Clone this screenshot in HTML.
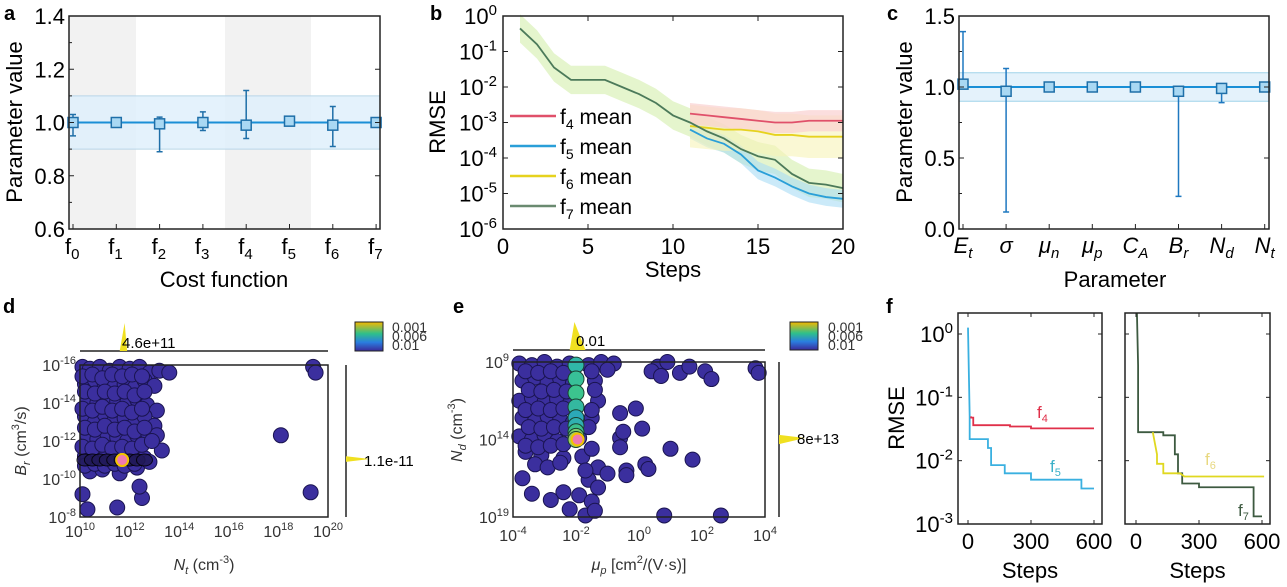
<!DOCTYPE html>
<html><head><meta charset="utf-8"><style>
body{margin:0;background:#fff;}
svg{display:block;font-family:"Liberation Sans",sans-serif;}
</style></head><body>
<svg id="fig" width="1287" height="587" viewBox="0 0 1287 587">
<defs>
<linearGradient id="cb" x1="0" y1="0" x2="0" y2="1"><stop offset="0" stop-color="#f5b800"/><stop offset="0.4" stop-color="#2fc08a"/><stop offset="0.7" stop-color="#2a7ee0"/><stop offset="1" stop-color="#3a2a9a"/></linearGradient>
</defs>
<g id="pa"></g>
<g id="pb"></g>
<g id="pc"></g>
<g id="pd"></g>
<g id="pe"></g>
<g id="pf"></g>
</svg>
<script>
// Panel a data
const aCats=["0","1","2","3","4","5","6","7"];
const aMean=[1.0,1.0,0.995,1.0,0.99,1.005,0.99,1.0];
const aLo=[0.95,0.995,0.89,0.97,0.94,0.995,0.91,0.995];
const aHi=[1.03,1.005,1.02,1.04,1.12,1.01,1.06,1.005];
// Panel b data
const bSteps=[1,2,3,4,5,6,7,8,9,10,11,12,13,14,15,16,17,18,19,20];
const bF7=[-0.35,-0.8,-1.45,-1.8,-1.8,-1.8,-2.0,-2.2,-2.45,-2.8,-3.0,-3.25,-3.45,-3.75,-3.95,-4.05,-4.45,-4.7,-4.75,-4.85];
const bF5=[null,null,null,null,null,null,null,null,null,null,-3.2,-3.45,-3.6,-3.9,-4.35,-4.55,-4.8,-5.0,-5.1,-5.15];
const bF6=[null,null,null,null,null,null,null,null,null,null,-3.1,-3.15,-3.2,-3.2,-3.25,-3.35,-3.35,-3.4,-3.4,-3.4];
const bF4=[null,null,null,null,null,null,null,null,null,null,-2.75,-2.8,-2.85,-2.9,-2.95,-3.0,-3.0,-2.95,-2.95,-2.95];
// Panel c data
const cCats=["E","σ","μ","μ","C","B","N","N"];
const cSub=["t","","n","p","A","r","d","t"];
const cMean=[1.02,0.97,1.0,1.0,1.0,0.97,0.99,1.0];
const cLo=[1.0,0.12,0.99,0.99,0.99,0.23,0.89,0.99];
const cHi=[1.39,1.13,1.01,1.01,1.01,1.0,1.02,1.01];
// Panel d data: log10 Nt, log10 Br
const dX=[10.1,10.4,10.8,11.2,11.6,12.0,12.4,12.8,13.2,13.6,10.2,10.6,11.0,11.4,11.8,12.2,12.6,13.0,10.3,10.7,11.1,11.5,11.9,12.3,12.7,13.1,10.2,10.6,11.0,11.4,11.8,12.2,12.6,10.3,10.7,11.1,11.5,11.9,12.3,12.7,13.0,10.2,10.6,11.0,11.4,11.8,12.2,12.6,10.4,10.9,11.6,12.3,12.8,10.1,10.3,11.5,12.5,12.4,18.1,19.3,19.4,19.5,13.3,13.1,
10.1,10.5,10.9,11.3,11.7,12.1,12.5,10.2,10.6,11.0,11.4,11.8,12.2,12.6,10.1,10.5,10.9,11.3,11.7,12.1,12.5,10.2,10.6,11.0,11.4,11.8,12.2,12.6,10.1,10.5,10.9,11.3,11.7,12.1,12.5,12.9,10.2,10.6,11.0,11.4,11.8,12.2];
const dY=[-15.9,-15.8,-15.9,-15.7,-15.9,-15.8,-15.9,-15.6,-15.7,-15.6,-15.0,-15.2,-14.9,-15.1,-15.0,-14.8,-15.2,-14.9,-14.2,-14.0,-14.3,-14.1,-14.0,-14.2,-13.9,-13.6,-13.3,-13.0,-13.4,-13.1,-13.2,-12.9,-13.3,-12.3,-12.1,-12.4,-12.2,-12.0,-12.3,-12.5,-12.8,-11.2,-11.0,-11.1,-11.0,-11.2,-10.9,-11.1,-10.4,-10.5,-10.3,-10.6,-10.9,-9.2,-8.4,-8.5,-9.0,-9.6,-12.3,-9.3,-15.9,-15.6,-11.5,-12.3,
-15.4,-15.5,-15.3,-15.5,-15.4,-15.5,-15.4,-14.6,-14.5,-14.6,-14.5,-14.6,-14.4,-14.6,-13.7,-13.6,-13.8,-13.6,-13.7,-13.5,-13.7,-12.7,-12.6,-12.8,-12.6,-12.7,-12.5,-12.7,-11.7,-11.6,-11.8,-11.6,-11.7,-11.6,-11.8,-12.0,-10.7,-10.8,-10.7,-10.8,-10.7,-10.8];
// Panel e data: log10 mu_p, log10 Nd
const eX=[-3.8,-3.4,-3.0,-2.6,-2.2,-1.6,-1.2,-3.7,-3.3,-2.9,-2.5,-2.1,-1.4,-3.8,-3.4,-3.0,-2.6,-2.2,-1.3,-3.7,-3.3,-2.9,-2.5,-2.1,-1.5,-3.8,-3.4,-3.0,-2.6,-1.9,-3.6,-3.1,-2.4,-1.8,-3.7,-1.6,-3.4,-2.4,-1.9,-1.7,-0.8,-1.0,-0.6,-0.1,-0.6,-0.5,0.1,-0.6,0.2,0.3,0.6,0.9,1.3,1.6,2.1,2.3,3.7,3.8,1.0,1.7,-1.3,-1.0,-0.4,-0.4,0.4,0.7,0.8,2.6,
-3.6,-3.2,-2.8,-2.4,-1.5,-3.5,-3.1,-2.7,-2.3,-1.4,-3.6,-3.2,-2.8,-2.4,-1.5,-3.5,-3.1,-2.7,-2.3,-1.6,-3.6,-3.2,-2.8,-2.4,-1.5,-3.3,-2.9,-2.5,-1.7,-1.3,-2.8,-2.2,-1.5,-1.4];
const eY=[9.1,9.2,9.0,9.3,9.1,9.2,9.0,10.2,10.0,10.3,10.1,10.4,10.2,11.5,11.3,11.6,11.4,11.7,11.5,12.6,12.8,12.5,12.7,12.9,12.6,13.8,14.0,13.7,14.1,13.9,14.8,15.0,15.2,15.1,16.5,16.6,17.5,17.4,17.6,18.9,9.1,9.5,12.3,12.0,13.9,13.5,13.3,14.5,15.6,15.9,9.3,9.0,9.7,9.3,9.6,10.1,9.4,9.7,14.6,15.3,15.8,16.2,16.0,16.3,9.6,9.9,18.9,18.9,
9.6,9.7,9.6,9.7,9.6,10.8,10.9,10.8,10.9,10.8,12.1,12.0,12.1,12.0,12.1,13.2,13.3,13.2,13.3,13.2,14.4,14.5,14.4,14.3,14.6,15.6,15.8,15.5,16.0,17.1,17.9,18.5,18.0,18.6];
const eGood=[-2.0,-2.0,-2.0,-2.0,-2.0,-2.0,-2.0,-2.0,-2.0];
const eGoodY=[9.2,10.1,11.0,11.9,12.6,13.1,13.5,13.8,14.0];
// Panel f data
const fStepsL4=[15,15,25,25,200,200,300,300,600];
const fL4=[-1.3,-1.32,-1.32,-1.44,-1.44,-1.46,-1.46,-1.49,-1.49];
const fStepsL5=[0,8,8,95,95,110,110,175,175,300,300,540,540,600];
const fL5=[0.1,-1.3,-1.66,-1.66,-1.8,-1.8,-2.07,-2.07,-2.2,-2.2,-2.3,-2.3,-2.44,-2.44];
const fStepsR7=[0,10,10,130,130,185,185,200,200,220,220,300,300,560,560,600];
const fR7=[1.0,-0.5,-1.55,-1.55,-1.6,-1.6,-1.9,-1.9,-2.2,-2.2,-2.36,-2.36,-2.42,-2.42,-2.88,-2.88];
const fStepsR6=[80,100,100,130,130,210,210,230,230,610];
const fR6=[-1.55,-1.9,-2.05,-2.05,-2.2,-2.2,-2.2,-2.25,-2.25,-2.25];

const NS="http://www.w3.org/2000/svg";
function E(p,t,a,txt){const e=document.createElementNS(NS,t);for(const k in a)e.setAttribute(k,a[k]);if(txt!==undefined)e.textContent=txt;p.appendChild(e);return e;}
function lin(d0,d1,r0,r1){return v=>r0+(v-d0)/(d1-d0)*(r1-r0);}
function box(g,x0,y0,x1,y1){const r=E(g,'rect',{x:x0,y:y0,width:x1-x0,height:y1-y0,fill:'none',stroke:'#222','stroke-width':1.5});}
function lbl(g,x,y,s){const t=E(g,'text',{x:x,y:y,'font-size':20,'font-weight':'bold'},s);}

// ---------- Panel a ----------
(function(){const g=document.getElementById('pa');
const X0=69,X1=380,Y0=16,Y1=229;const y=lin(0.6,1.4,Y1,Y0);const x=i=>73+i*43.3;
E(g,'rect',{x:X0,y:Y0,width:67,height:Y1-Y0,fill:'#f2f2f2'});
E(g,'rect',{x:225,y:Y0,width:86,height:Y1-Y0,fill:'#f2f2f2'});
E(g,'rect',{x:X0,y:y(1.1),width:X1-X0,height:y(0.9)-y(1.1),fill:'#dff0fb',opacity:0.85});
E(g,'line',{x1:X0,x2:X1,y1:y(1.1),y2:y(1.1),stroke:'#b9d6e8'});E(g,'line',{x1:X0,x2:X1,y1:y(0.9),y2:y(0.9),stroke:'#b9d6e8'});
const pl=E(g,'polyline',{points:aMean.map((m,i)=>x(i)+','+y(1.0)).join(' '),fill:'none',stroke:'#1a8fd6','stroke-width':2});
aMean.forEach((m,i)=>{const xx=x(i);
const eb=E(g,'path',{d:`M${xx},${y(aLo[i])}V${y(aHi[i])}M${xx-3},${y(aLo[i])}h6M${xx-3},${y(aHi[i])}h6`,stroke:'#1f6fa8','stroke-width':1.5,fill:'none'});
const r=E(g,'rect',{x:xx-5,y:y(m)-5,width:10,height:10,fill:'#a9d8f3',stroke:'#1f6fa8','stroke-width':1.5});});
box(g,X0,Y0,X1,Y1);
[0.6,0.8,1.0,1.2,1.4].forEach(v=>{E(g,'line',{x1:X0,x2:X0+5,y1:y(v),y2:y(v),stroke:'#222'});E(g,'line',{x1:X1,x2:X1-5,y1:y(v),y2:y(v),stroke:'#222'});
const t=E(g,'text',{x:X0-4,y:y(v)+8,'font-size':22,'text-anchor':'end'},v.toFixed(1));});
[0.7,0.9,1.1,1.3].forEach(v=>{E(g,'line',{x1:X0,x2:X0+3,y1:y(v),y2:y(v),stroke:'#222'});});
aCats.forEach((c,i)=>{E(g,'line',{x1:x(i),x2:x(i),y1:Y1,y2:Y1-5,stroke:'#222'});
const t=E(g,'text',{x:x(i)-8,y:254,'font-size':22});
t.innerHTML='f<tspan font-size="15" dy="5">'+c+'</tspan>';});
const xt=E(g,'text',{x:224,y:287,'font-size':22,'text-anchor':'middle'},'Cost function');
const yt=E(g,'text',{x:0,y:0,'font-size':22,'text-anchor':'middle',transform:'translate(22,122) rotate(-90)'},'Parameter value');
lbl(g,4,20,'a');})();

// ---------- Panel b ----------
(function(){const g=document.getElementById('pb');
const X0=503,X1=843,Y0=16,Y1=229;const x=lin(0,20,X0,X1),y=lin(0,-6,Y0,Y1);
function band(arr,w,col,op){const ok=bSteps.map((s,i)=>[s,arr[i]]).filter(p=>p[1]!==null);
const up=ok.map(p=>x(p[0])+','+y(p[1]+w)).join(' '),dn=ok.slice().reverse().map(p=>x(p[0])+','+y(p[1]-w)).join(' ');
E(g,'polygon',{points:up+' '+dn,fill:col,opacity:op});}
band(bF7,0.4,'#dff3c0',0.8);band(bF5,0.25,'#a8dcf5',0.6);band(bF6,0.6,'#f7f3b8',0.6);band(bF4,0.3,'#f9d0d0',0.7);
function line(arr,col,name){const ok=bSteps.map((s,i)=>[s,arr[i]]).filter(p=>p[1]!==null);
const p=E(g,'polyline',{points:ok.map(q=>x(q[0])+','+y(q[1])).join(' '),fill:'none',stroke:col,'stroke-width':1.8});}
line(bF4,'#e0506a','f4-mean-line');line(bF6,'#e6d21e','f6-mean-line');line(bF5,'#2a9fd8','f5-mean-line');line(bF7,'#4c7a5a','f7-mean-line');
box(g,X0,Y0,X1,Y1);
for(let d=0;d<=6;d++){E(g,'line',{x1:X0,x2:X0+5,y1:y(-d),y2:y(-d),stroke:'#222'});E(g,'line',{x1:X1,x2:X1-5,y1:y(-d),y2:y(-d),stroke:'#222'});
const t=E(g,'text',{x:X0-6,y:y(-d)+8,'font-size':22,'text-anchor':'end'});
t.innerHTML='10<tspan font-size="15" dy="-9">'+(d===0?'0':'-'+d)+'</tspan>';}
[0,5,10,15,20].forEach(v=>{E(g,'line',{x1:x(v),x2:x(v),y1:Y1,y2:Y1-5,stroke:'#222'});E(g,'line',{x1:x(v),x2:x(v),y1:Y0,y2:Y0+5,stroke:'#222'});
const t=E(g,'text',{x:x(v),y:254,'font-size':22,'text-anchor':'middle'},v);});
const xt=E(g,'text',{x:673,y:277,'font-size':22,'text-anchor':'middle'},'Steps');
const yt=E(g,'text',{x:0,y:0,'font-size':22,'text-anchor':'middle',transform:'translate(445,122) rotate(-90)'},'RMSE');
const legs=[['4','#e0506a'],['5','#2a9fd8'],['6','#e6d21e'],['7','#6a8a70']];
legs.forEach((l,i)=>{const yy=116+i*30;const lg=E(g,'g',{});
E(lg,'line',{x1:510,x2:556,y1:yy,y2:yy,stroke:l[1],'stroke-width':2.5});
const t=E(lg,'text',{x:560,y:yy+8,'font-size':21});t.innerHTML='f<tspan font-size="14" dy="5">'+l[0]+'</tspan><tspan dy="-5"> mean</tspan>';});
lbl(g,430,20,'b');})();

// ---------- Panel c ----------
(function(){const g=document.getElementById('pc');
const X0=959,X1=1269,Y0=16,Y1=229;const y=lin(0,1.5,Y1,Y0);const x=i=>963+i*43.1;
E(g,'rect',{x:X0,y:y(1.1),width:X1-X0,height:y(0.9)-y(1.1),fill:'#e4f2fb'});
E(g,'line',{x1:X0,x2:X1,y1:y(1.1),y2:y(1.1),stroke:'#9fd3ea'});E(g,'line',{x1:X0,x2:X1,y1:y(0.9),y2:y(0.9),stroke:'#9fd3ea'});
const pl=E(g,'polyline',{points:cMean.map((m,i)=>x(i)+','+y(1.0)).join(' '),fill:'none',stroke:'#1a8fd6','stroke-width':2});
cMean.forEach((m,i)=>{const xx=x(i);
const eb=E(g,'path',{d:`M${xx},${y(cLo[i])}V${y(cHi[i])}M${xx-3},${y(cLo[i])}h6M${xx-3},${y(cHi[i])}h6`,stroke:'#1f78c0','stroke-width':1.5,fill:'none'});
const r=E(g,'rect',{x:xx-5,y:y(m)-5,width:10,height:10,fill:'#a9d8f3',stroke:'#1f6fa8','stroke-width':1.5});});
box(g,X0,Y0,X1,Y1);
[0,0.5,1.0,1.5].forEach(v=>{E(g,'line',{x1:X0,x2:X0+5,y1:y(v),y2:y(v),stroke:'#222'});E(g,'line',{x1:X1,x2:X1-5,y1:y(v),y2:y(v),stroke:'#222'});
const t=E(g,'text',{x:X0-4,y:y(v)+8,'font-size':22,'text-anchor':'end'},v.toFixed(1));});
[0.25,0.75,1.25].forEach(v=>{E(g,'line',{x1:X0,x2:X0+3,y1:y(v),y2:y(v),stroke:'#222'});});
cCats.forEach((c,i)=>{E(g,'line',{x1:x(i),x2:x(i),y1:Y1,y2:Y1-5,stroke:'#222'});
const t=E(g,'text',{x:x(i),y:253,'font-size':22,'font-style':'italic','text-anchor':'middle'});
t.innerHTML=c+(cSub[i]?'<tspan font-size="15" dy="5">'+cSub[i]+'</tspan>':'');});
const xt=E(g,'text',{x:1115,y:287,'font-size':22,'text-anchor':'middle'},'Parameter');
const yt=E(g,'text',{x:0,y:0,'font-size':22,'text-anchor':'middle',transform:'translate(912,122) rotate(-90)'},'Parameter value');
lbl(g,887,20,'c');})();

// ---------- scatter helper ----------
function scatter(g,X0,X1,Y0,Y1,x,y,xs,ys,goodX,goodY,best){
E(g,'rect',{x:X0,y:Y0,width:X1-X0,height:Y1-Y0,fill:'#fff'});
const clipId='sc'+g.id;const cp=E(g,'clipPath',{id:clipId});E(cp,'rect',{x:X0-8,y:Y0-8,width:X1-X0+16,height:Y1-Y0+16});
xs.forEach((v,i)=>{const c=E(g,'circle',{cx:x(v),cy:y(ys[i]),r:7.5,fill:'#3b2f9e',stroke:'#1a1450','stroke-width':1});});
const cols=['#30b8a8','#38c098','#3cc48e','#34b8a0','#2ca8b8','#30b0b0','#3cc08c','#7ccc70','#a0d060'];
if(goodX)goodX.forEach((v,i)=>{const c=E(g,'circle',{cx:x(v),cy:y(goodY[i]),r:8,fill:cols[i%cols.length],stroke:'#1a4030','stroke-width':1});});
const b=E(g,'circle',{cx:x(best[0]),cy:y(best[1]),r:6,fill:'#f07ab0',stroke:'#f2c400','stroke-width':2});
box(g,X0,Y0,X1,Y1);}

// ---------- Panel d ----------
(function(){const g=document.getElementById('pd');
const X0=80,X1=328,Y0=365,Y1=517;const x=lin(10,20,X0,X1),y=lin(-16,-8,Y0,Y1);
scatter(g,X0,X1,Y0,Y1,x,y,dX,dY,null,null,[11.7,-11.0]);
const bandX=[10.2,10.5,10.8,11.1,11.4,11.7,12.0,12.3,12.6];
bandX.forEach(v=>E(g,'ellipse',{cx:x(v),cy:y(-11.0),rx:8,ry:6,fill:'#221a5a',stroke:'#000',opacity:0.85}));
E(g,'circle',{cx:x(11.7),cy:y(-11.0),r:6,fill:'#f07ab0',stroke:'#f2c400','stroke-width':2});
for(let v=10;v<=20;v+=2){const t=E(g,'text',{x:x(v),y:537,'font-size':16,'text-anchor':'middle','fill':'#333'});t.innerHTML='10<tspan font-size="11" dy="-7">'+v+'</tspan>';}
for(let v=-16;v<=-8;v+=2){const t=E(g,'text',{x:X0-4,y:y(v)+6,'font-size':16,'text-anchor':'end','fill':'#333'});t.innerHTML='10<tspan font-size="11" dy="-7">'+v+'</tspan>';}
const xt=E(g,'text',{x:204,y:570,'font-size':16,'text-anchor':'middle',fill:'#333'});xt.innerHTML='<tspan font-style="italic">N</tspan><tspan font-size="11" dy="4" font-style="italic">t</tspan><tspan dy="-4"> (cm</tspan><tspan font-size="11" dy="-7">-3</tspan><tspan dy="7">)</tspan>';
const yt=E(g,'text',{x:0,y:0,'font-size':16,'text-anchor':'middle',fill:'#333',transform:'translate(26,441) rotate(-90)'});yt.innerHTML='<tspan font-style="italic">B</tspan><tspan font-size="11" dy="4" font-style="italic">r</tspan><tspan dy="-4"> (cm</tspan><tspan font-size="11" dy="-7">3</tspan><tspan dy="7">/s)</tspan>';
E(g,'line',{x1:80,x2:328,y1:351,y2:351,stroke:'#222','stroke-width':1.5});
E(g,'path',{d:`M${x(11.6)},351 L${x(11.8)},323 L${x(11.9)},351Z`,fill:'#f0e020'});
E(g,'text',{x:122,y:348,'font-size':15},'4.6e+11');
E(g,'line',{x1:346,x2:346,y1:365,y2:517,stroke:'#222','stroke-width':1.5});
E(g,'path',{d:`M346,${y(-11.2)} L370,${y(-11.05)} L346,${y(-10.9)}Z`,fill:'#f0e020'});
E(g,'text',{x:364,y:y(-11.0)+6,'font-size':15},'1.1e-11');
const cb=E(g,'rect',{x:355,y:322,width:28,height:29,fill:'url(#cb)',stroke:'#222'});
['0.001','0.006','0.01'].forEach((s,i)=>E(g,'text',{x:392,y:332+i*9,'font-size':14,fill:'#333'},s));
lbl(g,3,313,'d');})();

// ---------- Panel e ----------
(function(){const g=document.getElementById('pe');
const X0=513,X1=765,Y0=362,Y1=517;const x=lin(-4,4,X0,X1),y=lin(9,19,Y0,Y1);
scatter(g,X0,X1,Y0,Y1,x,y,eX,eY,eGood,eGoodY,[-1.95,14.0]);
for(let v=-4;v<=4;v+=2){const t=E(g,'text',{x:x(v),y:541,'font-size':16,'text-anchor':'middle',fill:'#333'});t.innerHTML='10<tspan font-size="11" dy="-7">'+v+'</tspan>';}
[9,14,19].forEach(v=>{const t=E(g,'text',{x:X0-4,y:y(v)+6,'font-size':16,'text-anchor':'end',fill:'#333'});t.innerHTML='10<tspan font-size="11" dy="-7">'+v+'</tspan>';});
const xt=E(g,'text',{x:639,y:570,'font-size':16,'text-anchor':'middle',fill:'#333'});xt.innerHTML='<tspan font-style="italic">μ</tspan><tspan font-size="11" dy="4" font-style="italic">p</tspan><tspan dy="-4"> [cm</tspan><tspan font-size="11" dy="-7">2</tspan><tspan dy="7">/(V·s)]</tspan>';
const yt=E(g,'text',{x:0,y:0,'font-size':16,'text-anchor':'middle',fill:'#333',transform:'translate(462,430) rotate(-90)'});yt.innerHTML='<tspan font-style="italic">N</tspan><tspan font-size="11" dy="4" font-style="italic">d</tspan><tspan dy="-4"> (cm</tspan><tspan font-size="11" dy="-7">-3</tspan><tspan dy="7">)</tspan>';
E(g,'line',{x1:513,x2:765,y1:350,y2:350,stroke:'#222','stroke-width':1.5});
E(g,'path',{d:`M${x(-2.2)},350 L${x(-2.05)},322 L${x(-1.7)},350Z`,fill:'#f0e020'});
E(g,'text',{x:576,y:346,'font-size':15},'0.01');
E(g,'line',{x1:779,x2:779,y1:362,y2:517,stroke:'#222','stroke-width':1.5});
E(g,'path',{d:`M779,${y(13.7)} L805,${y(13.9)} L779,${y(14.3)}Z`,fill:'#f0e020'});
E(g,'text',{x:797,y:y(13.9)+6,'font-size':15},'8e+13');
const cb=E(g,'rect',{x:790,y:322,width:28,height:28,fill:'url(#cb)',stroke:'#222'});
['0.001','0.006','0.01'].forEach((s,i)=>E(g,'text',{x:828,y:332+i*9,'font-size':14,fill:'#333'},s));
lbl(g,453,313,'e');})();

// ---------- Panel f ----------
(function(){const g=document.getElementById('pf');
const Y0=313,Y1=524;const y=lin(-3,0,Y1,334);
const panes=[[958,1102,968,1094],[1125,1270,1136,1262]];
panes.forEach((p,pi)=>{const [X0,X1,a0,a1]=p;const x=lin(0,600,a0,a1);
const clip=E(g,'clipPath',{id:'fc'+pi});E(clip,'rect',{x:X0,y:Y0,width:X1-X0,height:Y1-Y0});
function ln(xs,ys,col,name){const pl=E(g,'polyline',{points:xs.map((v,i)=>x(v)+','+y(ys[i])).join(' '),fill:'none',stroke:col,'stroke-width':1.8,'clip-path':'url(#fc'+pi+')'});}
if(pi===0){ln(fStepsL5,fL5,'#3ab0e0','f5-line');ln(fStepsL4,fL4,'#e0304a','f4-line');
const t=E(g,'text',{x:1037,y:418,'font-size':17,fill:'#e0304a'});t.innerHTML='f<tspan font-size="11" dy="4">4</tspan>';
const t2=E(g,'text',{x:1050,y:472,'font-size':17,fill:'#3ab0c8'});t2.innerHTML='f<tspan font-size="11" dy="4">5</tspan>';}
else{ln(fStepsR7,fR7,'#3d5a40','f7-line');ln(fStepsR6,fR6,'#e0d820','f6-line');
const t=E(g,'text',{x:1205,y:465,'font-size':17,fill:'#e8d880'});t.innerHTML='f<tspan font-size="11" dy="4">6</tspan>';
const t2=E(g,'text',{x:1238,y:516,'font-size':17,fill:'#3d5a40'});t2.innerHTML='f<tspan font-size="11" dy="4">7</tspan>';}
box(g,X0,Y0,X1,Y1);
for(let d=-3;d<=0;d++){E(g,'line',{x1:X0,x2:X0+4,y1:y(d),y2:y(d),stroke:'#222'});E(g,'line',{x1:X1,x2:X1-4,y1:y(d),y2:y(d),stroke:'#222'});}
[0,300,600].forEach(v=>{E(g,'line',{x1:x(v),x2:x(v),y1:Y1,y2:Y1-4,stroke:'#222'});E(g,'line',{x1:x(v),x2:x(v),y1:Y0,y2:Y0+4,stroke:'#222'});
const t=E(g,'text',{x:x(v),y:549,'font-size':22,'text-anchor':'middle'},v);});
const xt=E(g,'text',{x:(X0+X1)/2,y:578,'font-size':22,'text-anchor':'middle'},'Steps');});
for(let d=-3;d<=0;d++){const t=E(g,'text',{x:953,y:y(d)+8,'font-size':22,'text-anchor':'end'});t.innerHTML='10<tspan font-size="15" dy="-9">'+(d===0?'0':d)+'</tspan>';}
const yt=E(g,'text',{x:0,y:0,'font-size':22,'text-anchor':'middle',transform:'translate(904,418) rotate(-90)'},'RMSE');
lbl(g,886,313,'f');})();
</script>
</body></html>
